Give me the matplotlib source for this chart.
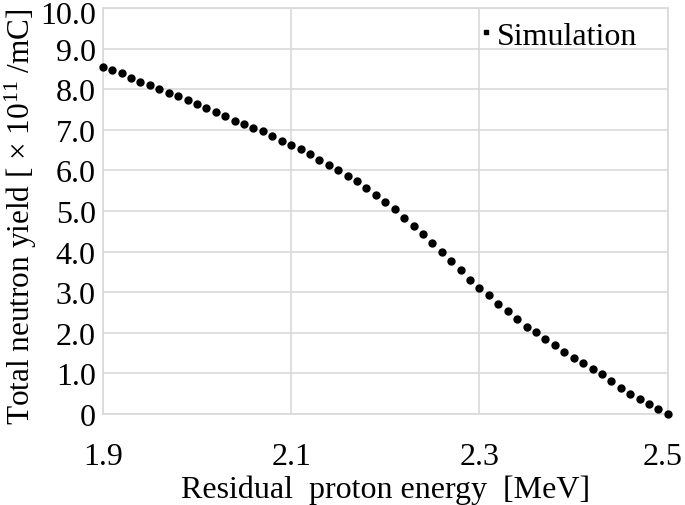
import numpy as np
import matplotlib
matplotlib.use('Agg')
import matplotlib.pyplot as plt
import matplotlib.transforms as mtransforms
from matplotlib.lines import Line2D
from matplotlib.ticker import FuncFormatter

plt.rcParams['font.family'] = ['Liberation Serif', 'DejaVu Serif']
plt.rcParams['mathtext.fontset'] = 'custom'
plt.rcParams['mathtext.rm'] = 'Liberation Serif'
plt.rcParams['mathtext.default'] = 'regular'

#------------------------数据-----------------------------
energy = [1.90, 1.91, 1.92, 1.93, 1.94, 1.95, 1.96, 1.97, 1.98, 1.99,
          2.00, 2.01, 2.02, 2.03, 2.04, 2.05, 2.06, 2.07, 2.08, 2.09,
          2.10, 2.11, 2.12, 2.13, 2.14, 2.15, 2.16, 2.17, 2.18, 2.19,
          2.20, 2.21, 2.22, 2.23, 2.24, 2.25, 2.26, 2.27, 2.28, 2.29,
          2.30, 2.31, 2.32, 2.33, 2.34, 2.35, 2.36, 2.37, 2.38, 2.39,
          2.40, 2.41, 2.42, 2.43, 2.44, 2.45, 2.46, 2.47, 2.48, 2.49,
          2.50]
yield_sim = [8.56, 8.47, 8.39, 8.29, 8.19, 8.10, 8.01, 7.92, 7.83, 7.73,
             7.63, 7.54, 7.44, 7.34, 7.23, 7.14, 7.05, 6.96, 6.85, 6.73,
             6.63, 6.52, 6.40, 6.26, 6.14, 6.01, 5.86, 5.73, 5.57, 5.40,
             5.22, 5.04, 4.84, 4.64, 4.43, 4.20, 3.99, 3.77, 3.54, 3.31,
             3.10, 2.92, 2.72, 2.54, 2.33, 2.15, 2.01, 1.85, 1.69, 1.52,
             1.37, 1.25, 1.11, 0.99, 0.80, 0.64, 0.49, 0.37, 0.24, 0.11,
             0.00]
x_ticks = [1.9, 2.1, 2.3, 2.5]
y_ticks = [0, 1, 2, 3, 4, 5, 6, 7, 8, 9, 10]

#------------------------作图-----------------------------
fig = plt.figure(figsize=(6.85, 5.06), dpi=100)
ax = fig.add_axes([0.150, 0.180, 0.825, 0.802])

ax.plot(energy, yield_sim, ls='none', marker='o', ms=5, color='black', zorder=3,
        clip_on=False)

ax.set_xlim(1.9, 2.5)
ax.set_ylim(0, 10)
ax.set_xticks(x_ticks)
ax.set_yticks(y_ticks)
ax.xaxis.set_major_formatter(FuncFormatter(lambda v, p: '%.1f' % v))
ax.yaxis.set_major_formatter(FuncFormatter(lambda v, p: '0' if v == 0 else '%.1f' % v))
ax.tick_params(axis='both', length=0, labelsize=23)
ax.tick_params(axis='x', pad=20)
ax.tick_params(axis='y', pad=5)

# 边上的刻度标签往里挪一点, 免得被裁掉
fig.canvas.draw()
xl = ax.get_xticklabels()[-1]
xl.set_transform(xl.get_transform() + mtransforms.ScaledTranslation(-4/72, 0, fig.dpi_scale_trans))
yl = ax.get_yticklabels()[-1]
yl.set_transform(yl.get_transform() + mtransforms.ScaledTranslation(0, -3/72, fig.dpi_scale_trans))

ax.grid(True, color='#d9d9d9', linewidth=1.2)
ax.set_axisbelow(True)
for s in ax.spines.values():
    s.set_color('#d9d9d9')
    s.set_linewidth(1.2)

ax.set_xlabel('Residual  proton energy  [MeV]', fontsize=23, labelpad=3)
ax.set_ylabel(r'Total neutron yield [ $\times$ 10$^{11}$ /mC]', fontsize=22.5)
ax.yaxis.set_label_coords(-0.112, 0.488)

h = Line2D([], [], ls='none', marker='s', ms=3.5, color='black')
ax.legend([h], ['Simulation'], loc='upper right', frameon=False, fontsize=23,
          handlelength=0.4, handletextpad=0.15, borderaxespad=0.2,
          bbox_to_anchor=(0.98, 1.015))

fig.savefig('out.png', dpi=100)
